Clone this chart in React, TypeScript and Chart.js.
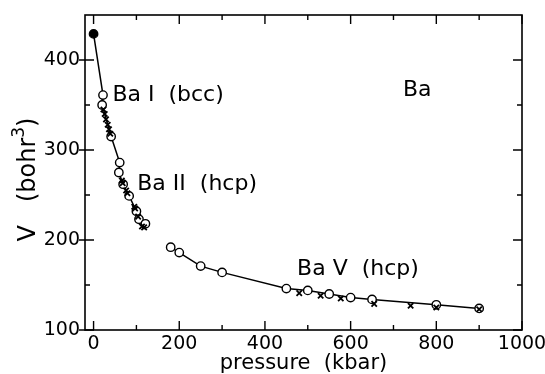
import React, { useEffect, useRef } from 'react';
import { Chart, registerables } from 'chart.js';

Chart.register(...registerables);

// Ba I / Ba II (calculated, open circles with line)
const baLowPressure = [0, 22, 20, 41, 61, 59, 69, 83, 100, 106, 121];
const baLowVolume = [429, 361, 350, 315, 286, 275, 262, 249, 232, 223, 218];
// Ba I / Ba II (experiment, crosses)
const baLowExpPressure = [23, 26, 29, 33, 36, 39, 66, 68, 76, 79, 95, 97, 104, 113, 118];
const baLowExpVolume = [345, 340, 334, 328, 323, 318, 266, 263, 255, 252, 237, 235, 226, 215, 214];
// Ba V (calculated)
const baVPressure = [180, 200, 250, 300, 450, 500, 550, 600, 650, 800, 900];
const baVVolume = [192, 186, 171, 164, 146, 144, 140, 136, 134, 128, 124];
// Ba V (experiment)
const baVExpPressure = [480, 530, 577, 655, 740, 800, 900];
const baVExpVolume = [141, 138, 135, 129, 127, 125, 123];

const xTickValues = [0, 200, 400, 600, 800, 1000];
const xMinorTicks = [100, 300, 500, 700, 900];
const yTickValues = [100, 200, 300, 400];
const yMinorTicks = [150, 250, 350];

const phaseLabels = ['Ba I  (bcc)', 'Ba II  (hcp)', 'Ba V  (hcp)', 'Ba'];
const phaseLabelP = [44, 102, 475, 722];
const phaseLabelV = [361, 262, 167, 366];

const FONT = '"DejaVu Sans", sans-serif';

const toPts = (xs: number[], ys: number[]) => xs.map((x, i) => ({ x, y: ys[i] }));

const framePlugin = {
  id: 'frameTicks',
  afterDraw(chart: any) {
    const { ctx, chartArea: a, scales } = chart;
    const xs = scales.x;
    const ys = scales.y;
    ctx.save();
    ctx.strokeStyle = '#000';
    ctx.lineWidth = 1.6;
    ctx.strokeRect(a.left, a.top, a.right - a.left, a.bottom - a.top);
    ctx.lineWidth = 1.4;
    ctx.beginPath();
    const major = 9;
    const minor = 5;
    xTickValues.forEach((v) => {
      const px = xs.getPixelForValue(v);
      ctx.moveTo(px, a.bottom);
      ctx.lineTo(px, a.bottom - major);
      ctx.moveTo(px, a.top);
      ctx.lineTo(px, a.top + major);
    });
    xMinorTicks.forEach((v) => {
      const px = xs.getPixelForValue(v);
      ctx.moveTo(px, a.bottom);
      ctx.lineTo(px, a.bottom - minor);
      ctx.moveTo(px, a.top);
      ctx.lineTo(px, a.top + minor);
    });
    yTickValues.forEach((v) => {
      const py = ys.getPixelForValue(v);
      ctx.moveTo(a.left - 6, py);
      ctx.lineTo(a.left + major, py);
      ctx.moveTo(a.right, py);
      ctx.lineTo(a.right - major, py);
    });
    yMinorTicks.forEach((v) => {
      const py = ys.getPixelForValue(v);
      ctx.moveTo(a.left, py);
      ctx.lineTo(a.left + minor, py);
      ctx.moveTo(a.right, py);
      ctx.lineTo(a.right - minor, py);
    });
    ctx.stroke();

    // phase labels
    ctx.fillStyle = '#000';
    ctx.font = '22px ' + FONT;
    ctx.textAlign = 'left';
    ctx.textBaseline = 'middle';
    phaseLabels.forEach((t, i) => {
      ctx.fillText(t, xs.getPixelForValue(phaseLabelP[i]), ys.getPixelForValue(phaseLabelV[i]));
    });

    // y axis title with superscript
    const mainFont = '24px ' + FONT;
    const supFont = '17px ' + FONT;
    const p1 = 'V   (bohr';
    const p2 = '3';
    const p3 = ')';
    ctx.font = mainFont;
    const w1 = ctx.measureText(p1).width;
    const w3 = ctx.measureText(p3).width;
    ctx.font = supFont;
    const w2 = ctx.measureText(p2).width;
    const total = w1 + w2 + w3;
    ctx.translate(a.left - 58, (a.top + a.bottom) / 2 + 7);
    ctx.rotate(-Math.PI / 2);
    ctx.textBaseline = 'alphabetic';
    let cx = -total / 2;
    const base = 8;
    ctx.font = mainFont;
    ctx.fillText(p1, cx, base);
    cx += w1;
    ctx.font = supFont;
    ctx.fillText(p2, cx, base - 11);
    cx += w2;
    ctx.font = mainFont;
    ctx.fillText(p3, cx, base);
    ctx.restore();
  },
};

export default function App() {
  const ref = useRef<HTMLCanvasElement | null>(null);
  useEffect(() => {
    document.body.style.margin = '0';
    const canvas = ref.current;
    if (!canvas) return;
    const circleStyle = {
      pointStyle: 'circle' as const,
      pointRadius: 4.2,
      pointBorderWidth: 1.4,
      pointBorderColor: '#000',
      borderColor: '#000',
      borderWidth: 1.5,
      showLine: true,
    };
    const crossStyle = {
      pointStyle: 'crossRot' as const,
      pointRadius: 3.8,
      pointBorderWidth: 1.8,
      pointBorderColor: '#000',
      borderColor: '#000',
      showLine: false,
    };
    const chart = new Chart(canvas, {
      type: 'scatter',
      data: {
        datasets: [
          { label: 'exp I/II', data: toPts(baLowExpPressure, baLowExpVolume), ...crossStyle },
          { label: 'exp V', data: toPts(baVExpPressure, baVExpVolume), ...crossStyle },
          {
            label: 'calc I/II',
            data: toPts(baLowPressure, baLowVolume),
            ...circleStyle,
            pointBackgroundColor: (c: any) => (c.dataIndex === 0 ? '#000' : '#fff'),
          },
          { label: 'calc V', data: toPts(baVPressure, baVVolume), ...circleStyle, pointBackgroundColor: '#fff' },
        ],
      },
      options: {
        responsive: false,
        animation: false,
        layout: { padding: { top: 15, right: 23, left: 0, bottom: 0 } },
        plugins: { legend: { display: false }, tooltip: { enabled: false } },
        scales: {
          x: {
            type: 'linear',
            min: -20,
            max: 1000,
            grid: { display: false, drawTicks: false },
            border: { display: false },
            afterBuildTicks: (s: any) => {
              s.ticks = xTickValues.map((v) => ({ value: v }));
            },
            afterFit: (s: any) => {
              s.height = 44;
              s.paddingLeft = 0;
              s.paddingRight = 0;
            },
            ticks: {
              color: '#000',
              font: { family: FONT, size: 19 },
              padding: 3,
              maxRotation: 0,
              autoSkip: false,
              callback: (v: any) => String(v),
            },
            title: {
              display: true,
              text: 'pressure  (kbar)',
              color: '#000',
              font: { family: FONT, size: 21, lineHeight: 1 },
              padding: { top: 0, bottom: 0 },
            },
          },
          y: {
            type: 'linear',
            min: 100,
            max: 450,
            grid: { display: false, drawTicks: false },
            border: { display: false },
            afterBuildTicks: (s: any) => {
              s.ticks = yTickValues.map((v) => ({ value: v }));
            },
            afterFit: (s: any) => {
              s.width = 85;
              s.paddingTop = 0;
              s.paddingBottom = 0;
            },
            ticks: {
              color: '#000',
              font: { family: FONT, size: 19 },
              padding: 5,
              autoSkip: false,
              callback: (v: any) => String(v),
            },
          },
        },
      },
      plugins: [framePlugin],
    });
    return () => chart.destroy();
  }, []);
  return (
    <div style={{ width: 545, height: 374, background: '#fff' }}>
      <canvas ref={ref} width={545} height={374} />
    </div>
  );
}
